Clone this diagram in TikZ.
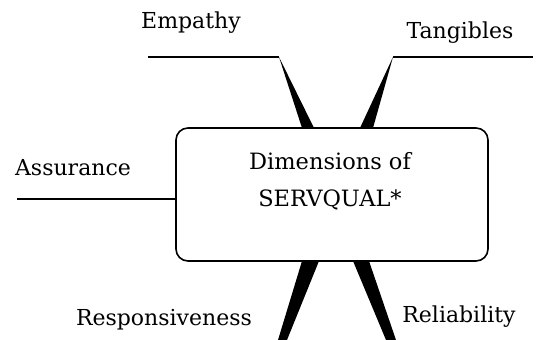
\documentclass[tikz,border=0pt]{standalone}
\usepackage{fontspec}
\setmainfont{DejaVu Serif}
\begin{document}
\begin{tikzpicture}[x=1pt,y=-1pt,
  lbl/.style={inner sep=0pt, font=\fontsize{22}{26}\selectfont},
  leader/.style={line width=1.6pt},
  wedge/.style={fill=black, draw=none}]
\useasboundingbox (0,0) rectangle (544,340);
\node[draw, line width=1.6pt, rounded corners=12pt, minimum width=312pt, minimum height=133pt, inner sep=0pt] (box) at (332,194.5) {};
\node[inner sep=0pt, align=center, font=\fontsize{22.5}{37}\selectfont] (title) at (330,181.5) {Dimensions of\\SERVQUAL*};
% labels
\node[lbl] (emp) at (191,23) {Empathy};
\node[lbl] (tan) at (460,33) {Tangibles};
\node[lbl] (ass) at (73,168) {Assurance};
\node[lbl] (res) at (164,320) {Responsiveness};
\node[lbl] (rel) at (459,317) {Reliability};
% leader points
\coordinate (e0) at (148,57);
\coordinate (e1) at (279,57);
\coordinate (t0) at (533,57);
\coordinate (t1) at (393,57);
\coordinate (a0) at (17,199);
% leaders
\draw[leader] (e0) -- (e1);
\draw[leader] (t0) -- (t1);
\draw[leader] (a0) -- (box.west |- a0);
% wedges
\fill[wedge] (e1) -- (302,128) -- (314,128) -- cycle;
\fill[wedge] (t1) -- (360,128) -- (373,128) -- cycle;
\fill[wedge] (302,261) -- (319,261) -- (287,340) -- (278,340) -- cycle;
\fill[wedge] (353,261) -- (369,261) -- (396,340) -- (386,340) -- cycle;
\end{tikzpicture}
\end{document}
